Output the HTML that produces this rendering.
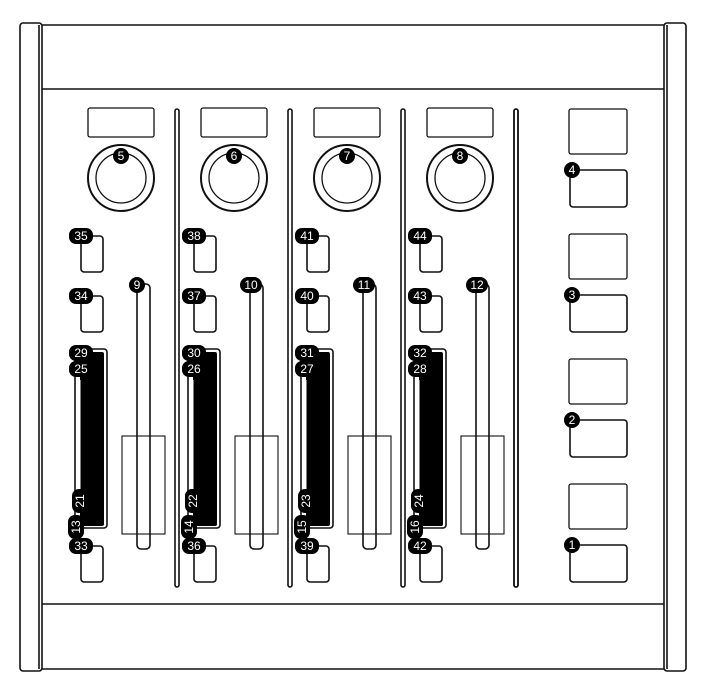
<!DOCTYPE html>
<html><head><style>
html,body{margin:0;padding:0;background:#fff;width:706px;height:700px;overflow:hidden}
svg text{font-family:"Liberation Sans",sans-serif;font-size:12px;fill:#fff;text-anchor:middle;dominant-baseline:central}
</style></head><body>
<svg width="706" height="700" viewBox="0 0 706 700" xmlns="http://www.w3.org/2000/svg">
<g fill="none" stroke="#111" stroke-width="1.6">
<rect x="20" y="23" width="22" height="648" rx="3"/>
<rect x="664" y="23" width="22" height="648" rx="3"/>
<line x1="42" y1="25" x2="664" y2="25"/>
<line x1="42" y1="669" x2="664" y2="669"/>
<line x1="42" y1="89" x2="664" y2="89"/>
<line x1="42" y1="604" x2="664" y2="604"/>
<line x1="39" y1="25" x2="39" y2="669"/>
<line x1="667" y1="25" x2="667" y2="669"/>
<g stroke-width="1.3">
<rect x="569" y="109" width="58" height="45" rx="2"/>
<rect x="569" y="234" width="58" height="45" rx="2"/>
<rect x="569" y="359" width="58" height="45" rx="2"/>
<rect x="569" y="484" width="58" height="45" rx="2"/>
</g>
<rect x="570" y="170" width="57" height="37" rx="3"/>
<rect x="570" y="295" width="57" height="37" rx="3"/>
<rect x="570" y="420" width="57" height="37" rx="3"/>
<rect x="570" y="545" width="57" height="37" rx="3"/>
<rect x="514" y="109" width="4" height="478" rx="2"/>
</g>
<defs>
<g id="strip">
<g fill="none" stroke="#111" stroke-width="1.6">
<rect x="88" y="108" width="66" height="29" rx="2" stroke-width="1.3"/>
<circle cx="121" cy="178" r="33" stroke-width="2"/>
<circle cx="121" cy="178" r="25" stroke-width="1.3"/>
<rect x="81" y="236" width="22" height="36" rx="3"/>
<rect x="81" y="296" width="22" height="36" rx="3"/>
<rect x="81" y="546" width="22" height="36" rx="3"/>
<rect x="75" y="349" width="32" height="179" rx="3"/>
<rect x="137" y="284" width="13" height="265" rx="4"/>
<rect x="122" y="436" width="43" height="98" stroke-width="1.1"/>
<rect x="175" y="109" width="4" height="478" rx="2"/>
</g>
<rect x="80" y="352" width="24" height="174" rx="2" fill="#000"/>
<line x1="80" y1="380" x2="80" y2="495" stroke="#fff" stroke-width="1"/>
<rect x="113" y="148" width="16" height="16" rx="8" fill="#000"/>
<rect x="69" y="228" width="24" height="16" rx="7" fill="#000"/>
<rect x="69" y="288" width="24" height="16" rx="7" fill="#000"/>
<rect x="69" y="345" width="24" height="16" rx="7" fill="#000"/>
<rect x="69" y="361" width="24" height="16" rx="7" fill="#000"/>
<rect x="72" y="489" width="16" height="24" rx="7" fill="#000"/>
<rect x="68" y="515" width="16" height="24" rx="7" fill="#000"/>
<rect x="69" y="538" width="24" height="16" rx="7" fill="#000"/>
</g>
</defs>
<use href="#strip"/>
<use href="#strip" x="113"/>
<use href="#strip" x="226"/>
<use href="#strip" x="339"/>
<g fill="#000">
<circle cx="572" cy="170" r="8"/><circle cx="572" cy="295" r="8"/><circle cx="572" cy="420" r="8"/><circle cx="572" cy="545" r="8"/>
<rect x="129" y="277" width="16" height="16" rx="8"/>
<rect x="240" y="277" width="22" height="16" rx="8"/>
<rect x="353" y="277" width="22" height="16" rx="8"/>
<rect x="466" y="277" width="22" height="16" rx="8"/>
</g>
<text x="572" y="170">4</text><text x="572" y="295">3</text><text x="572" y="420">2</text><text x="572" y="545">1</text>
<text x="121" y="156">5</text><text x="234" y="156">6</text><text x="347" y="156">7</text><text x="460" y="156">8</text>
<text x="81" y="236">35</text><text x="194" y="236">38</text><text x="307" y="236">41</text><text x="420" y="236">44</text>
<text x="81" y="296">34</text><text x="194" y="296">37</text><text x="307" y="296">40</text><text x="420" y="296">43</text>
<text x="81" y="353">29</text><text x="194" y="353">30</text><text x="307" y="353">31</text><text x="420" y="353">32</text>
<text x="81" y="369">25</text><text x="194" y="369">26</text><text x="307" y="369">27</text><text x="420" y="369">28</text>
<text x="81" y="546">33</text><text x="194" y="546">36</text><text x="307" y="546">39</text><text x="420" y="546">42</text>
<text x="137" y="285">9</text><text x="251" y="285">10</text><text x="364" y="285">11</text><text x="477" y="285">12</text>
<text transform="translate(80,501) rotate(-90)">21</text><text transform="translate(193,501) rotate(-90)">22</text><text transform="translate(306,501) rotate(-90)">23</text><text transform="translate(419,501) rotate(-90)">24</text>
<text transform="translate(76,527) rotate(-90)">13</text><text transform="translate(189,527) rotate(-90)">14</text><text transform="translate(302,527) rotate(-90)">15</text><text transform="translate(415,527) rotate(-90)">16</text>
</svg>
</body></html>
